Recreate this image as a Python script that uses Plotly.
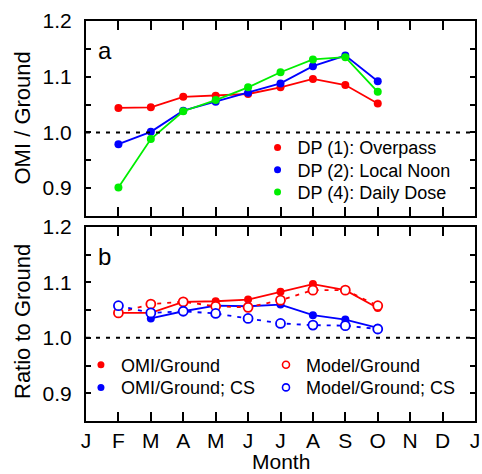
import plotly.graph_objects as go

months = list(range(1, 10))  # F .. O
month_ticks = list(range(0, 13))
month_labels = ["J", "F", "M", "A", "M", "J", "J", "A", "S", "O", "N", "D", "J"]

# Panel a
dp1_overpass = [1.044, 1.045, 1.064, 1.066, 1.069, 1.081, 1.096, 1.085, 1.052]
dp2_local_noon = [0.979, 1.001, 1.039, 1.055, 1.071, 1.088, 1.119, 1.138, 1.092]
dp4_daily_dose = [0.901, 0.988, 1.038, 1.058, 1.081, 1.108, 1.131, 1.135, 1.073]

# Panel b
omi_ground = [1.045, 1.045, 1.065, 1.066, 1.069, 1.083, 1.097, 1.086, 1.054]
omi_ground_cs = [None, 1.035, 1.048, 1.058, 1.057, 1.060, 1.041, 1.033, 1.018]
model_ground = [1.045, 1.061, 1.065, 1.057, 1.055, 1.068, 1.086, 1.086, 1.058]
model_ground_cs = [1.058, 1.045, 1.048, 1.044, 1.035, 1.026, 1.023, 1.022, 1.016]

ytickvals = [0.9, 0.95, 1.0, 1.05, 1.1, 1.15, 1.2]
yticktext = ["0.9", "", "1.0", "", "1.1", "", "1.2"]

RED, BLUE, GREEN = "#ff0000", "#0000ff", "#00ee00"
FONT = "Liberation Sans, Arial, Helvetica, sans-serif"

fig = go.Figure()

def line_trace(y, color, xa, ya, dash="solid", hollow=False):
    return go.Scatter(
        x=months, y=y, mode="lines+markers", xaxis=xa, yaxis=ya, showlegend=False,
        line=dict(color=color, width=1.8, dash=dash),
        marker=dict(size=9 if hollow else 8, color="white" if hollow else color,
                    line=dict(color=color, width=1.8 if hollow else 0)),
        connectgaps=False, cliponaxis=False,
    )

def legend_trace(name, color, legend, hollow=False):
    return go.Scatter(
        x=[None], y=[None], mode="markers", name=name, legend=legend,
        xaxis="x", yaxis="y",
        marker=dict(size=7, color="white" if hollow else color,
                    line=dict(color=color, width=1.6 if hollow else 0)),
    )

# Panel a data
fig.add_trace(line_trace(dp1_overpass, RED, "x", "y"))
fig.add_trace(line_trace(dp2_local_noon, BLUE, "x", "y"))
fig.add_trace(line_trace(dp4_daily_dose, GREEN, "x", "y"))

# Panel b data
fig.add_trace(line_trace(omi_ground, RED, "x2", "y2"))
fig.add_trace(line_trace(omi_ground_cs, BLUE, "x2", "y2"))
fig.add_trace(line_trace(model_ground, RED, "x2", "y2", dash="4px,6px", hollow=True))
fig.add_trace(line_trace(model_ground_cs, BLUE, "x2", "y2", dash="4px,6px", hollow=True))

# Legend entries (one legend per row for exact row spacing)
fig.add_trace(legend_trace("DP (1): Overpass", RED, "legend"))
fig.add_trace(legend_trace("DP (2): Local Noon", BLUE, "legend2"))
fig.add_trace(legend_trace("DP (4): Daily Dose", GREEN, "legend3"))
fig.add_trace(legend_trace("OMI/Ground", RED, "legend4"))
fig.add_trace(legend_trace("OMI/Ground; CS", BLUE, "legend5"))
fig.add_trace(legend_trace("Model/Ground", RED, "legend6", hollow=True))
fig.add_trace(legend_trace("Model/Ground; CS", BLUE, "legend7", hollow=True))

axis_common = dict(
    showline=True, linecolor="black", linewidth=2, mirror="ticks",
    ticks="inside", tickcolor="black", tickwidth=1.8,
    showgrid=False, zeroline=False, automargin=False,
    tickfont=dict(family=FONT, size=21, color="black"),
)

def leg(x, y):
    return dict(x=x, y=y, xanchor="left", yanchor="middle", bgcolor="rgba(0,0,0,0)",
                font=dict(family=FONT, size=18), itemwidth=30)

def title_ann(text, x, y, angle=0, size=22):
    return dict(text=text, xref="paper", yref="paper", x=x, y=y, xanchor="center",
                yanchor="middle", showarrow=False, textangle=angle,
                font=dict(family=FONT, size=size, color="black"))

W_PLOT, H_PLOT, L, T = 389, 400, 86, 21
def px_x(p):
    return (p - L) / W_PLOT
def px_y(p):
    return 1 - (p - T) / H_PLOT

fig.update_layout(
    width=482, height=474,
    margin=dict(l=L, r=7, t=T, b=53, autoexpand=False),
    paper_bgcolor="white", plot_bgcolor="white",
    font=dict(family=FONT, color="black"),
    xaxis=dict(axis_common, range=[0, 12], tickvals=month_ticks, ticktext=[""] * 13,
               ticklen=9, anchor="y", domain=[0, 1]),
    yaxis=dict(axis_common, range=[0.85, 1.2], tickvals=ytickvals, ticktext=yticktext,
               ticklen=5, domain=[0.5125, 1], anchor="x", ticklabelstandoff=8),
    xaxis2=dict(axis_common, range=[0, 12], tickvals=month_ticks, ticktext=month_labels,
                ticklen=9, anchor="y2", domain=[0, 1], ticklabelstandoff=0),
    yaxis2=dict(axis_common, range=[0.85, 1.2], tickvals=ytickvals, ticktext=yticktext,
                ticklen=5, domain=[0, 0.485], anchor="x2", ticklabelstandoff=8),
    legend=leg(0.441, 0.6833),
    legend2=leg(0.441, 0.6275),
    legend3=leg(0.441, 0.5718),
    legend4=leg(-0.013, 0.14),
    legend5=leg(-0.013, 0.0833),
    legend6=leg(0.4627, 0.14),
    legend7=leg(0.4627, 0.0833),
    shapes=[
        dict(type="line", xref="x domain", yref="y", x0=0, x1=1, y0=1.0, y1=1.0,
             line=dict(color="black", width=2, dash="4px,6px")),
        dict(type="line", xref="x2 domain", yref="y2", x0=0, x1=1, y0=1.0, y1=1.0,
             line=dict(color="black", width=2, dash="4px,6px")),
    ],
    annotations=[
        dict(text="a", xref="x domain", yref="y domain", x=0.025, y=0.93, xanchor="left",
             yanchor="top", showarrow=False, font=dict(family=FONT, size=24)),
        dict(text="b", xref="x2 domain", yref="y2 domain", x=0.025, y=0.93, xanchor="left",
             yanchor="top", showarrow=False, font=dict(family=FONT, size=24)),
        title_ann("OMI / Ground", px_x(22), px_y(118.5), -90),
        title_ann("Ratio to Ground", px_x(22), px_y(322), -90),
        title_ann("Month", px_x(280.5), px_y(461), 0, 21),
    ],
)

fig.write_html("out.html")
